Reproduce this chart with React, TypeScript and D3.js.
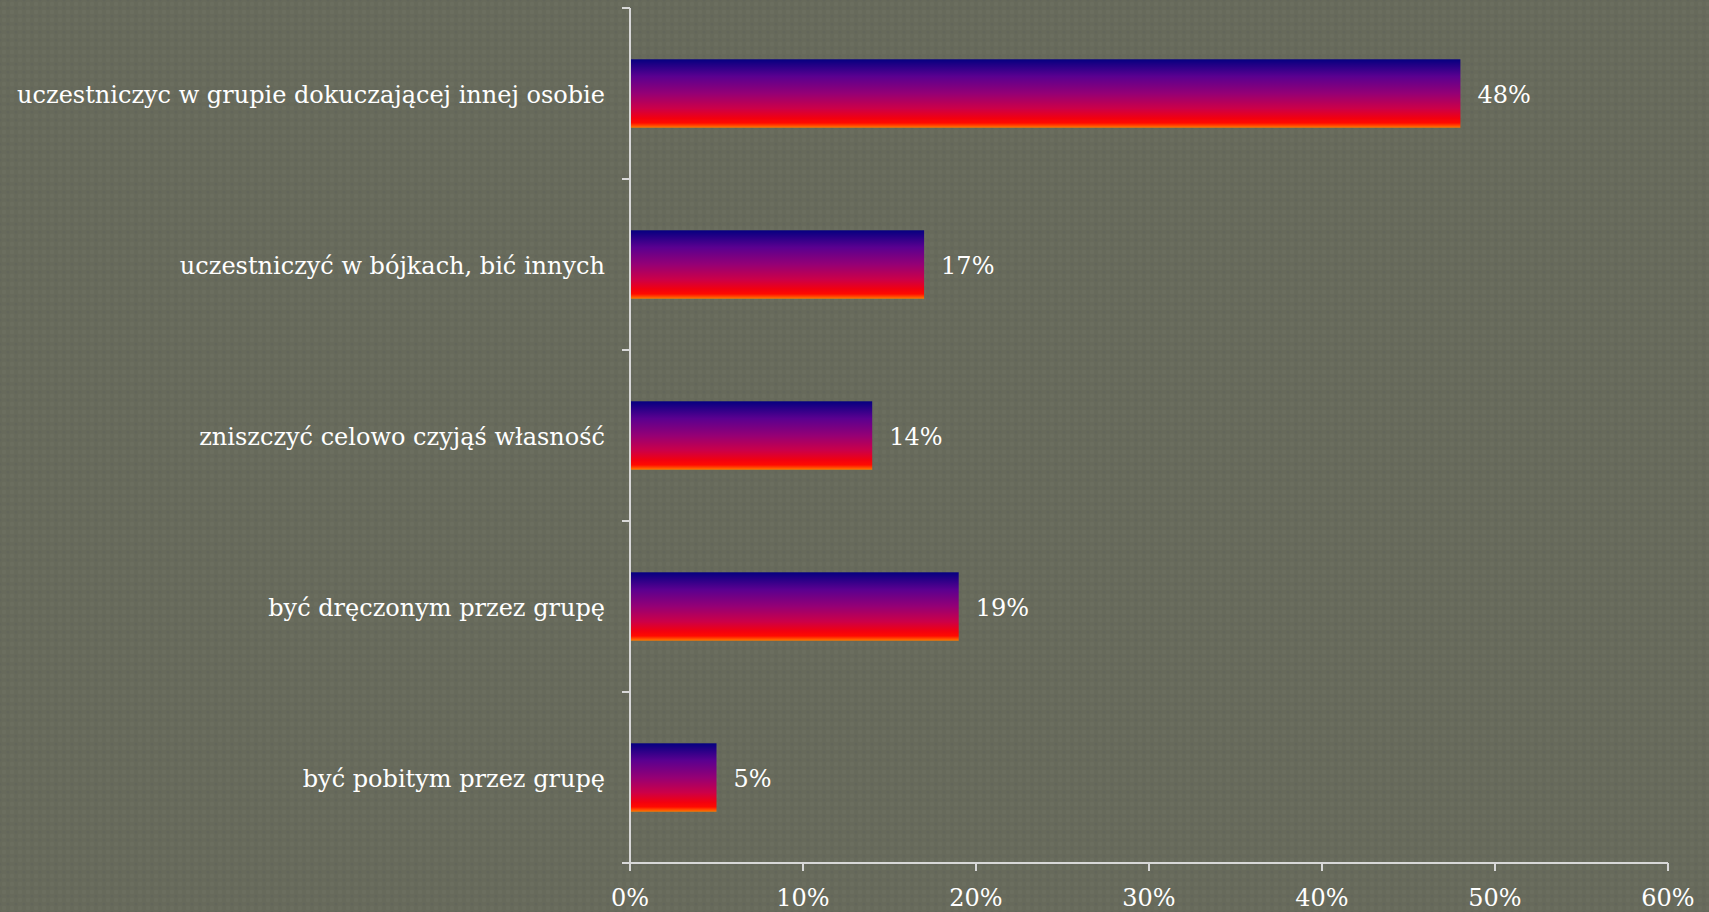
import React from "react";
import * as d3 from "d3";

const categories: string[] = [
  "uczestniczyc w grupie dokuczającej innej osobie",
  "uczestniczyć w bójkach, bić innych",
  "zniszczyć celowo czyjąś własność",
  "być dręczonym przez grupę",
  "być pobitym przez grupę",
];
const values: number[] = [48, 17, 14, 19, 5];
const xTicks: number[] = [0, 10, 20, 30, 40, 50, 60];

const W = 1709;
const H = 912;
const FONT = "'DejaVu Serif', serif";

export default function App() {
  const x = d3.scaleLinear().domain([0, 60]).range([630, 1668]);
  const y = d3
    .scaleBand<string>()
    .domain(categories)
    .range([8, 863])
    .paddingInner(0.6)
    .paddingOuter(0.3);
  const axisColor = "#d8d8d8";

  return (
    <svg
      width={W}
      height={H}
      style={{ position: "absolute", left: 0, top: 0, display: "block" }}
    >
      <defs>
        <linearGradient id="barGrad" x1="0" y1="0" x2="0" y2="1">
          <stop offset="0" stopColor="#050080" />
          <stop offset="0.25" stopColor="#5a0090" />
          <stop offset="0.5" stopColor="#950075" />
          <stop offset="0.72" stopColor="#cc0048" />
          <stop offset="0.86" stopColor="#f20010" />
          <stop offset="0.93" stopColor="#ff0a00" />
          <stop offset="1" stopColor="#ff7a00" />
        </linearGradient>
        <pattern id="bg" width="8" height="8" patternUnits="userSpaceOnUse">
          <rect width="8" height="8" fill="#676a5b" />
          <circle cx="4" cy="4" r="2.2" fill="#6b6e5f" />
          <circle cx="0" cy="0" r="1.6" fill="#63665a" />
          <circle cx="8" cy="8" r="1.6" fill="#63665a" />
          <circle cx="0" cy="8" r="1.6" fill="#63665a" />
          <circle cx="8" cy="0" r="1.6" fill="#63665a" />
        </pattern>
      </defs>
      <rect width={W} height={H} fill="url(#bg)" />

      {categories.map((c, i) => (
        <g key={c}>
          <rect
            x={x(0)}
            y={y(c)!}
            width={x(values[i]) - x(0)}
            height={y.bandwidth()}
            fill="url(#barGrad)"
          />
          <text
            x={x(values[i]) + 17}
            y={y(c)! + y.bandwidth() / 2 + 9}
            fill="#ffffff"
            fontFamily={FONT}
            fontSize={24}
          >
            {values[i]}%
          </text>
          <text
            x={605}
            y={y(c)! + y.bandwidth() / 2 + 9}
            fill="#ffffff"
            fontFamily={FONT}
            fontSize={24}
            textAnchor="end"
          >
            {c}
          </text>
        </g>
      ))}

      {/* y axis */}
      <line x1={x(0)} x2={x(0)} y1={8} y2={871} stroke={axisColor} strokeWidth={2} />
      {d3.range(categories.length + 1).map((k) => {
        const yy = 8 + k * y.step();
        return (
          <line key={k} x1={622} x2={x(0)} y1={yy} y2={yy} stroke={axisColor} strokeWidth={2} />
        );
      })}

      {/* x axis */}
      <line x1={622} x2={x(60)} y1={863} y2={863} stroke={axisColor} strokeWidth={2} />
      {xTicks.map((t) => (
        <g key={t}>
          <line x1={x(t)} x2={x(t)} y1={863} y2={871} stroke={axisColor} strokeWidth={2} />
          <text
            x={x(t)}
            y={906}
            fill="#ffffff"
            fontFamily={FONT}
            fontSize={24}
            textAnchor="middle"
          >
            {t}%
          </text>
        </g>
      ))}
    </svg>
  );
}
